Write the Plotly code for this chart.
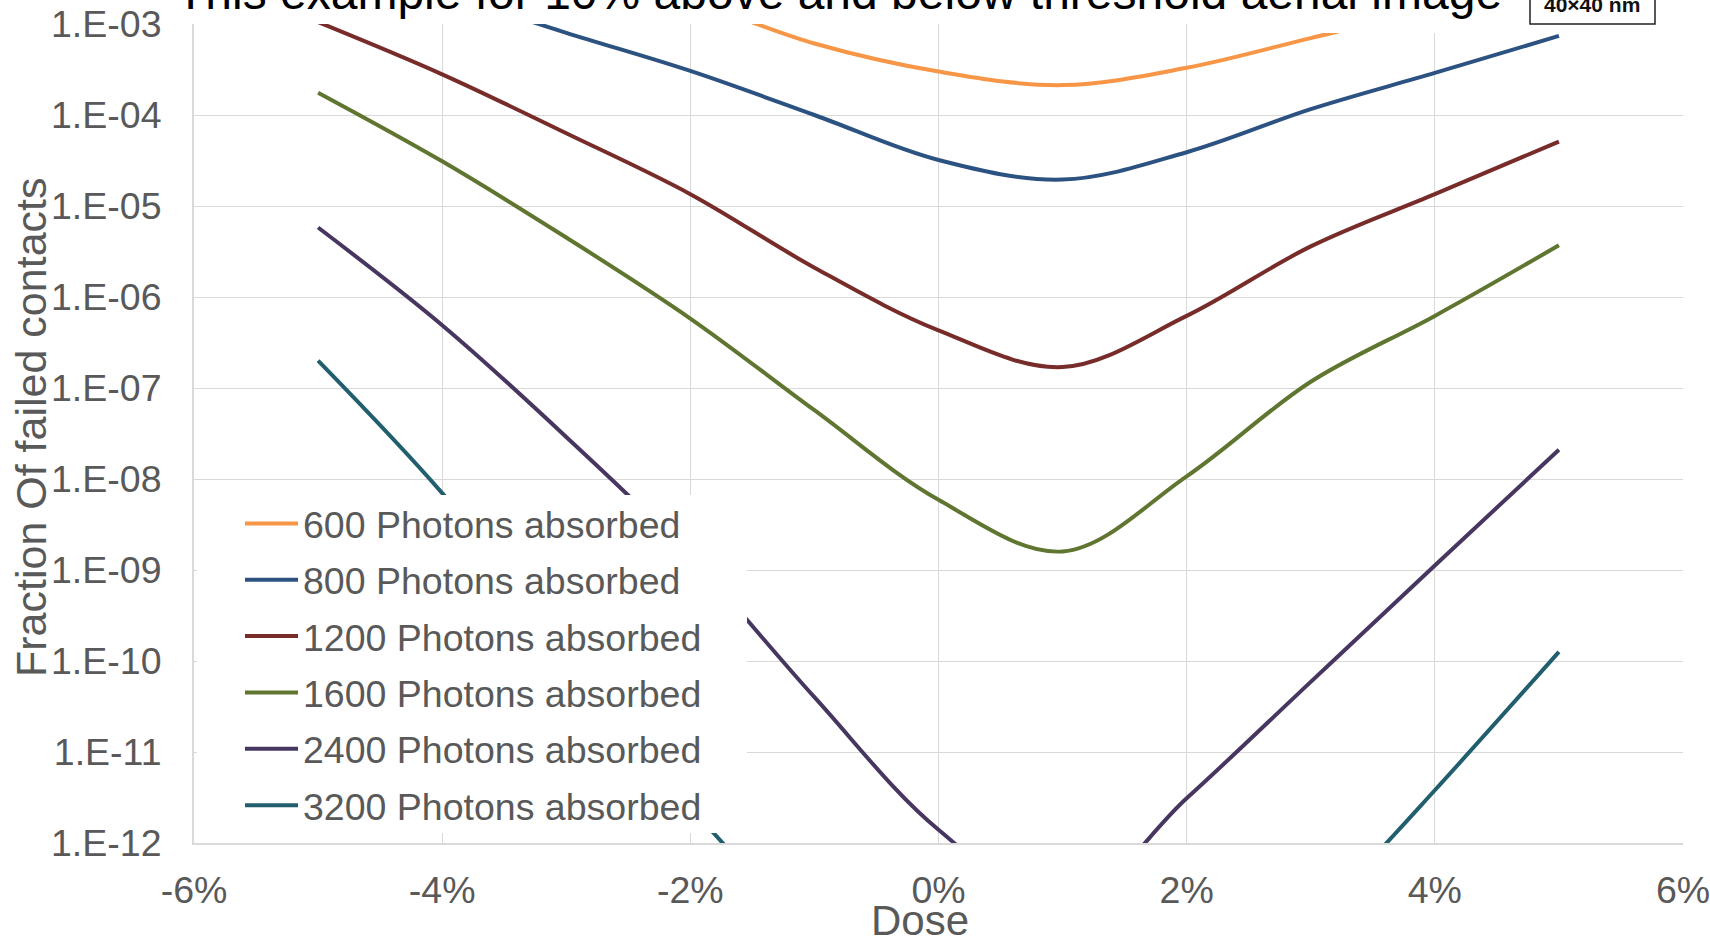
import plotly.graph_objects as go

# ---- data ----
dose = [-5, -4, -3, -2, -1, 0, 1, 2, 3, 4, 5]  # percent

series_names = [
    "600 Photons absorbed",
    "800 Photons absorbed",
    "1200 Photons absorbed",
    "1600 Photons absorbed",
    "2400 Photons absorbed",
    "3200 Photons absorbed",
]

p600 = [2.0e-2, 9.0e-3, 4.0e-3, 1.8e-3, 6.1e-4, 3.0e-4, 2.13e-4, 3.3e-4, 7.0e-4, 1.5e-3, 3.0e-3]
p800 = [5.6e-3, 2.2e-3, 8.0e-4, 3.05e-4, 1.0e-4, 3.2e-5, 1.95e-5, 3.9e-5, 1.16e-4, 2.9e-4, 7.4e-4]
p1200 = [1.05e-3, 2.8e-4, 6.3e-5, 1.35e-5, 2.1e-6, 4.3e-7, 1.7e-7, 6.2e-7, 3.6e-6, 1.35e-5, 5.1e-5]
p1600 = [1.76e-4, 3.1e-5, 4.5e-6, 5.8e-7, 5.7e-8, 5.9e-9, 1.6e-9, 1.07e-8, 1.17e-7, 6.2e-7, 3.7e-6]
p2400 = [5.8e-6, 4.9e-7, 2.9e-8, 1.4e-9, 4.0e-11, 1.4e-12, 2.0e-13, 3.1e-12, 5.9e-11, 1.12e-9, 2.1e-8]
p3200 = [2.0e-7, 7.0e-9, 1.4e-10, 2.5e-12, 1.0e-13, 1.0e-14, 3.0e-15, 6.0e-15, 1.3e-13, 3.8e-12, 1.26e-10]

series_values = [p600, p800, p1200, p1600, p2400, p3200]
series_colors = ["#F79646", "#2C5282", "#772C2A", "#5F7530", "#473660", "#215E6E"]

x_tickvals = [-6, -4, -2, 0, 2, 4, 6]
x_ticktext = ["-6%", "-4%", "-2%", "0%", "2%", "4%", "6%"]

y_tickvals = [1e-12, 1e-11, 1e-10, 1e-9, 1e-8, 1e-7, 1e-6, 1e-5, 1e-4, 1e-3]
y_ticktext = ["1.E-12", "1.E-11", "1.E-10", "1.E-09", "1.E-08",
              "1.E-07", "1.E-06", "1.E-05", "1.E-04", "1.E-03"]

title_text = "This example for 10% above and below threshold aerial image"
box_text = "40×40 nm"
x_title = "Dose"
y_title = "Fraction Of failed contacts"

FONT = "Liberation Sans, Arial, sans-serif"
GRID = "#d9d9d9"
TXT = "#595959"

# figure geometry (pixels)
W, H = 1710, 940
L, R, T, B = 194, 27, 24, 97
PW, PH = W - L - R, H - T - B


def px(x):
    return (x - L) / PW


def py(y):
    return (H - B - y) / PH


fig = go.Figure()
for i, (name, vals, col) in enumerate(zip(series_names, series_values, series_colors)):
    fig.add_trace(go.Scatter(
        x=dose, y=vals, name=name, mode="lines",
        line=dict(color=col, width=4, shape="spline", smoothing=1.0),
        legendgroup=f"g{i}",
    ))

fig.update_layout(
    width=W, height=H,
    margin=dict(l=L, r=R, t=T, b=B, pad=0, autoexpand=False),
    plot_bgcolor="white", paper_bgcolor="white",
    font=dict(family=FONT, color=TXT),
    showlegend=True,
    legend=dict(
        x=px(240), y=py(492.5), xanchor="left", yanchor="top",
        bgcolor="rgba(0,0,0,0)", borderwidth=0,
        font=dict(size=37.5, color=TXT, family=FONT),
        itemwidth=53, tracegroupgap=4.6,
    ),
    xaxis=dict(
        range=[-6, 6], tickmode="array", tickvals=x_tickvals, ticktext=x_ticktext,
        showgrid=True, gridcolor=GRID, gridwidth=1.3,
        showline=True, linecolor=GRID, linewidth=2,
        zeroline=False, ticks="", automargin=False,
        ticklabeloverflow="allow",
        tickfont=dict(size=37.5, color=TXT, family=FONT),
        ticklabelstandoff=13,
    ),
    yaxis=dict(
        type="log", range=[-12, -3],
        tickmode="array", tickvals=y_tickvals, ticktext=y_ticktext,
        showgrid=True, gridcolor=GRID, gridwidth=1.3,
        showline=True, linecolor=GRID, linewidth=2,
        zeroline=False, ticks="", automargin=False,
        ticklabeloverflow="allow",
        tickfont=dict(size=37.5, color=TXT, family=FONT),
        ticklabelstandoff=23,
    ),
    shapes=[
        # legend background
        dict(type="rect", xref="paper", yref="paper", layer="above",
             x0=px(197), x1=px(747), y0=py(833), y1=py(495),
             fillcolor="white", line=dict(width=0)),
        # white area behind the title / image in the top-right corner
        dict(type="rect", xref="paper", yref="paper", layer="above",
             x0=px(1320), x1=px(1712), y0=py(33), y1=py(-5),
             fillcolor="white", line=dict(width=0)),
        # small framed image label
        dict(type="rect", xref="paper", yref="paper", layer="above",
             x0=px(1530), x1=px(1655), y0=py(24), y1=py(-10),
             fillcolor="white", line=dict(color="#222222", width=1.5)),
    ],
    annotations=[
        dict(text=title_text, xref="paper", yref="paper",
             x=px(839), y=py(-7), xanchor="center", yanchor="middle",
             showarrow=False, font=dict(size=48, color="#000000", family=FONT)),
        dict(text="<b>" + box_text + "</b>", xref="paper", yref="paper",
             x=px(1592), y=py(4), xanchor="center", yanchor="middle",
             showarrow=False, font=dict(size=21, color="#111111", family=FONT)),
        dict(text=x_title, xref="paper", yref="paper",
             x=px(920), y=py(920), xanchor="center", yanchor="middle",
             showarrow=False, font=dict(size=42, color=TXT, family=FONT)),
        dict(text=y_title, xref="paper", yref="paper", textangle=-90,
             x=px(31), y=py(427), xanchor="center", yanchor="middle",
             showarrow=False, font=dict(size=43, color=TXT, family=FONT)),
    ],
)

fig.write_html("out.html")
